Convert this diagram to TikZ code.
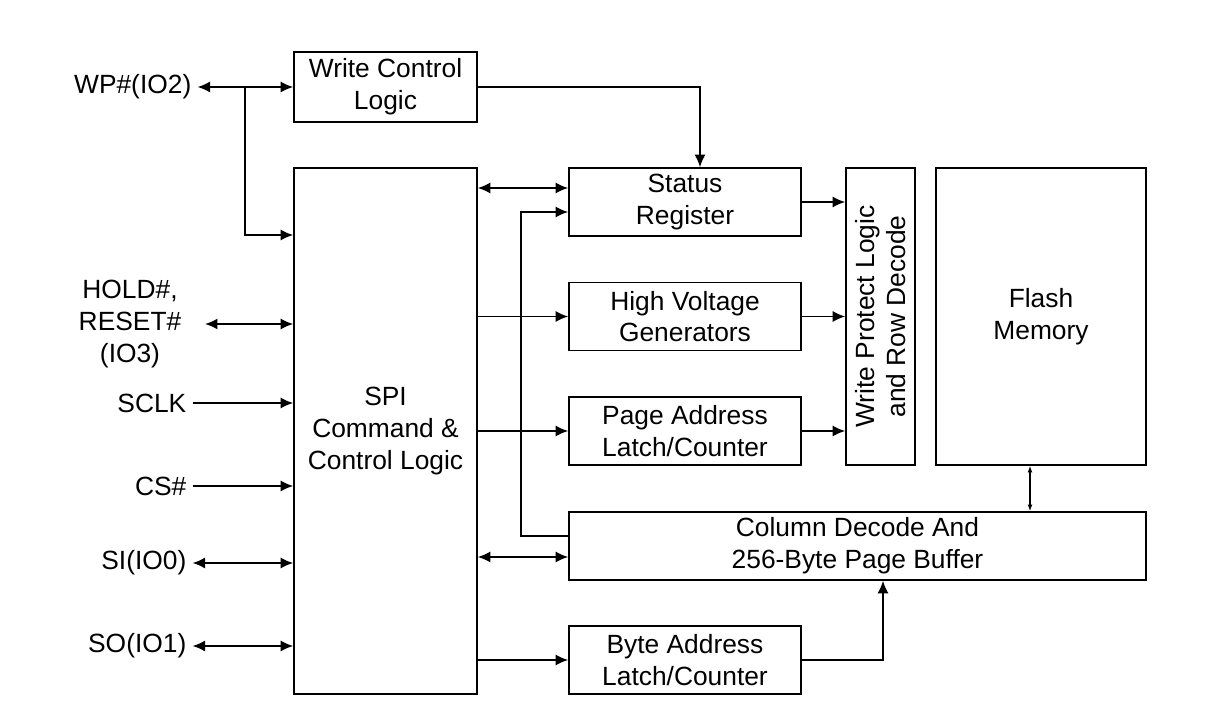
\documentclass[tikz,border=0pt]{standalone}
\usepackage{fontspec}
\setmainfont{Liberation Sans}
\usetikzlibrary{arrows.meta,positioning,calc}

\begin{document}
\begin{tikzpicture}[
  box/.style={draw, line width=0.9pt, minimum width=4.64cm, minimum height=1.36cm, align=center, inner sep=1pt,
    font=\fontsize{15}{18}\selectfont},
  pin/.style={align=center, font=\fontsize{15}{18}\selectfont},
  arr/.style={-{Latex[length=2.5mm,width=2.2mm]}, line width=0.9pt},
  biarr/.style={{Latex[length=2.5mm,width=2.2mm]}-{Latex[length=2.5mm,width=2.2mm]}, line width=0.9pt}
]
  \useasboundingbox (0,0) rectangle (24.38,14.34);

  % blocks
  \node[box, minimum width=3.66cm, minimum height=1.4cm] (wcl) at (7.71,12.6) {Write Control\\Logic};
  \node[box, minimum width=3.66cm, minimum height=10.52cm] (spi) at (7.71,5.72) {SPI\\Command \&\\Control Logic};
  \node[box] (status) at (13.70,10.30) {Status\\Register};
  \node[box] (hv) at (13.70,8.01) {High Voltage\\Generators};
  \node[box] (pa) at (13.70,5.72) {Page Address\\Latch/Counter};
  \node[box, minimum width=1.38cm, minimum height=5.94cm] (wp) at (17.61,8.01) {};
  \node[pin, rotate=90] (wptxt) at (wp.center) {Write Protect Logic\\and Row Decode};
  \node[box, minimum width=4.2cm, minimum height=5.94cm] (flash) at (20.82,8.01) {Flash\\Memory};
  \node[box, minimum width=11.54cm] (col) at (17.15,3.42) {Column Decode And\\256-Byte Page Buffer};
  \node[box] (ba) at (13.70,1.14) {Byte Address\\Latch/Counter};

  % pins
  \node[pin, anchor=east] (wpio) at (3.95,12.6) {WP\#(IO2)};
  \node[pin] (hold) at (2.6,7.86) {HOLD\#,\\RESET\#\\(IO3)};
  \node[pin, anchor=east] (sclk) at (3.85,6.28) {SCLK};
  \node[pin, anchor=east] (cs) at (3.85,4.62) {CS\#};
  \node[pin, anchor=east] (si) at (3.85,3.08) {SI(IO0)};
  \node[pin, anchor=east] (so) at (3.85,1.42) {SO(IO1)};
  \coordinate (wpbr) at (4.9,12.6);

  \draw[biarr] (wpio.east) -- (wcl.west);
  \draw[arr] (wpbr) |- (spi.west |- 0,9.64);
  \draw[biarr] (hold.east |- 0,7.86) ++(0.35,0) -- (spi.west |- 0,7.86);
  \draw[arr] (sclk.east) -- (spi.west |- sclk.east);
  \draw[arr] (cs.east) -- (spi.west |- cs.east);
  \draw[biarr] (si.east) -- (spi.west |- si.east);
  \draw[biarr] (so.east) -- (spi.west |- so.east);

  % internal connections
  \draw[arr] (wcl.east) -| ([xshift=0.3cm]status.north);
  \draw[biarr] ([yshift=0.28cm]status.west -| spi.east) -- ([yshift=0.28cm]status.west);
  \draw[arr] ([yshift=0.2cm]col.west) -- ++(-0.94,0) |- ([yshift=-0.2cm]status.west);
  \draw[arr] (spi.east |- hv.west) -- (hv.west);
  \draw[arr] (spi.east |- pa.west) -- (pa.west);
  \draw[biarr] ([yshift=-0.22cm]col.west -| spi.east) -- ([yshift=-0.22cm]col.west);
  \draw[arr] (spi.east |- ba.west) -- (ba.west);
  \draw[arr] (ba.east) -| ([xshift=0.51cm]col.south);
  \draw[arr] (status.east) -- (status.east -| wp.west);
  \draw[arr] (hv.east) -- (hv.east -| wp.west);
  \draw[arr] (pa.east) -- (pa.east -| wp.west);
  \draw[{Latex[length=1.3mm]}-{Latex[length=1.3mm]}, line width=0.7pt] (flash.south -| 20.6,0) -- (col.north -| 20.6,0);
\end{tikzpicture}
\end{document}
